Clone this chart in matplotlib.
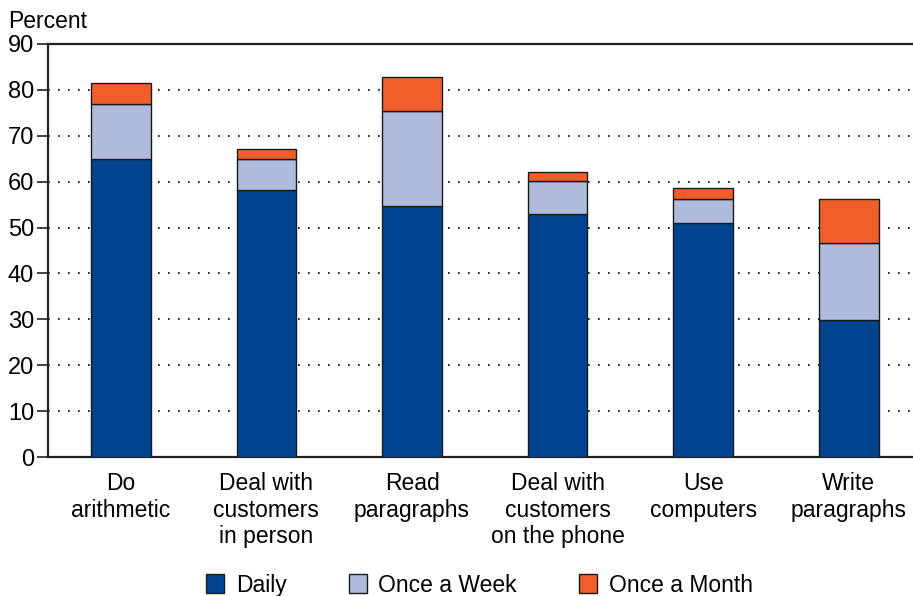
import numpy as np
import matplotlib.pyplot as plt

plt.rcParams['font.family'] = ['Liberation Sans', 'DejaVu Sans']

tasks = ['Do\narithmetic', 'Deal with\ncustomers\nin person', 'Read\nparagraphs',
         'Deal with\ncustomers\non the phone', 'Use\ncomputers', 'Write\nparagraphs']
daily = [65.0, 58.2, 54.8, 53.0, 51.1, 29.9]
weekly = [12.0, 6.7, 20.7, 7.1, 5.2, 16.8]
monthly = [4.4, 2.3, 7.2, 2.0, 2.4, 9.6]

fs = 16

fig = plt.figure(figsize=(9.13, 5.96), dpi=100)
ax = fig.add_axes([0.0526, 0.2332, 0.9568, 0.6930])

x = np.arange(len(tasks))
w = 0.41
kw = dict(width=w, edgecolor='#1a1a1a', linewidth=1.0, zorder=3)
b1 = ax.bar(x, daily, color='#00448F', label='Daily', **kw)
b2 = ax.bar(x, weekly, bottom=daily, color='#AEBBDD', label='Once a Week', **kw)
bottom2 = np.array(daily) + np.array(weekly)
b3 = ax.bar(x, monthly, bottom=bottom2, color='#F05F2A', label='Once a Month', **kw)

ax.set_xlim(-0.5, 5.5)
ax.set_ylim(0, 90)
ax.set_yticks(range(0, 91, 10))
ax.tick_params(axis='y', labelsize=fs + 1, length=8, width=1.2, color='#222222', pad=2)
ax.tick_params(axis='x', length=0, labelsize=fs + 0.5, pad=11)
ax.set_xticks(x)
ax.set_xticklabels(tasks, linespacing=1.2)

for yv in range(10, 90, 10):
    ax.axhline(yv, color='black', linestyle=(0, (1, 5)), linewidth=1.2, zorder=1)

ax.spines['right'].set_visible(False)
for s in ['left', 'top', 'bottom']:
    ax.spines[s].set_linewidth(1.6)
    ax.spines[s].set_color('#222222')

fig.text(0.009, 0.945, 'Percent', fontsize=fs + 0.5, ha='left', va='bottom')

leg = fig.legend(handles=[b1, b2, b3], loc='lower center', bbox_to_anchor=(0.525, -0.036),
                 ncol=3, frameon=False, fontsize=fs + 0.5, handlelength=0.8, handleheight=0.9,
                 columnspacing=2.7, handletextpad=0.5)

fig.savefig('out.png', dpi=100)
